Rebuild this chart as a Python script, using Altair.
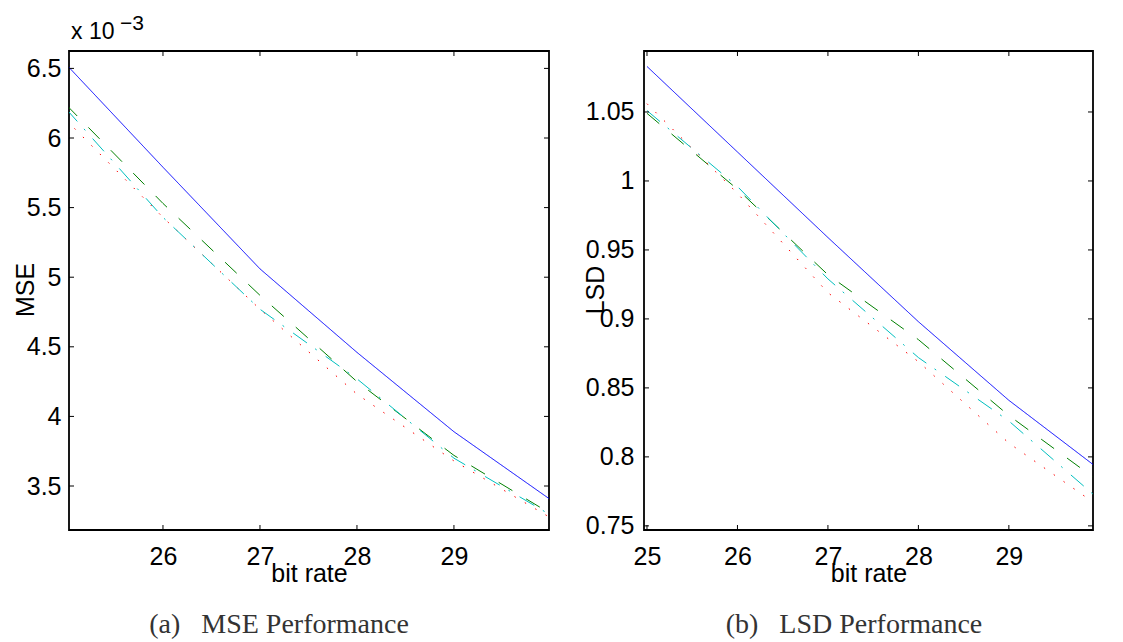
import altair as alt
import pandas as pd

# ---- data -------------------------------------------------------------
bit_rate = [25, 26, 27, 28, 29, 30]
series = ["A", "B", "C", "D"]
colors = ["#0000ff", "#008000", "#ff0000", "#00bfbf"]
dashes = [[1, 0], [16, 16], [1.5, 10.5], [17, 10, 2, 11]]

# MSE, in units of 10^-3
mse_a = [6.53, 5.79, 5.06, 4.46, 3.89, 3.40]
mse_b = [6.24, 5.53, 4.87, 4.25, 3.72, 3.30]
mse_c = [6.13, 5.43, 4.77, 4.16, 3.68, 3.27]
mse_d = [6.21, 5.43, 4.77, 4.27, 3.70, 3.29]

lsd_a = [1.083, 1.021, 0.959, 0.898, 0.841, 0.791]
lsd_b = [1.049, 0.994, 0.932, 0.885, 0.830, 0.782]
lsd_c = [1.056, 0.991, 0.919, 0.869, 0.810, 0.764]
lsd_d = [1.051, 0.996, 0.929, 0.872, 0.826, 0.769]

x_ticks_all = [25, 26, 27, 28, 29, 30]
mse_x_labels = [26, 27, 28, 29]
lsd_x_labels = [25, 26, 27, 28, 29]
mse_y_ticks = [3.5, 4.0, 4.5, 5.0, 5.5, 6.0, 6.5]
lsd_y_ticks = [0.75, 0.8, 0.85, 0.9, 0.95, 1.0, 1.05]

SANS = "Liberation Sans"
SERIF = "Liberation Serif"
H = 479
TICK = 5
NB = "\u00a0"


def long_table(cols):
    rows = []
    for name, vals in zip(series, cols):
        for x, v in zip(bit_rate, vals):
            rows.append({"rate": x, "value": v, "series": name})
    return pd.DataFrame(rows)


def panel(df, width, x_dom, y_dom, x_labels, y_ticks, y_title, title_x, label_pad, caption):
    xs = alt.Scale(domain=x_dom, nice=False, zero=False)
    ys = alt.Scale(domain=y_dom, nice=False, zero=False)
    # the x-axis group sits at the bottom edge, so titleY is measured from there
    x_axis = alt.Axis(values=x_labels, title="bit rate", titleX=width / 2,
                      titleY=51, titleBaseline="alphabetic",
                      labelBaseline="alphabetic", labelPadding=34)
    y_axis = alt.Axis(values=y_ticks, format="~g", title=y_title,
                      titleX=title_x, titleY=H / 2 - 1, titleAngle=-90,
                      titleAlign="center", titleBaseline="alphabetic",
                      labelPadding=label_pad)

    lines = alt.Chart(df).mark_line(strokeWidth=1, clip=True).encode(
        x=alt.X("rate:Q", scale=xs, axis=x_axis),
        y=alt.Y("value:Q", scale=ys, axis=y_axis),
        color=alt.Color("series:N", scale=alt.Scale(domain=series, range=colors), legend=None),
        strokeDash=alt.StrokeDash("series:N", scale=alt.Scale(domain=series, range=dashes),
                                  legend=None),
        order="rate:Q",
    )

    # inward tick marks on all four sides of the box
    xt = pd.DataFrame({"rate": x_ticks_all})
    yt = pd.DataFrame({"value": y_ticks})
    rule = dict(color="black", strokeWidth=1, clip=True)
    xb = alt.Chart(xt).mark_rule(**rule).encode(
        x=alt.X("rate:Q", scale=xs, axis=x_axis), y=alt.value(H), y2=alt.value(H - TICK))
    xtp = alt.Chart(xt).mark_rule(**rule).encode(
        x=alt.X("rate:Q", scale=xs, axis=x_axis), y=alt.value(0), y2=alt.value(TICK))
    yl = alt.Chart(yt).mark_rule(**rule).encode(
        y=alt.Y("value:Q", scale=ys, axis=y_axis), x=alt.value(0), x2=alt.value(TICK))
    yr = alt.Chart(yt).mark_rule(**rule).encode(
        y=alt.Y("value:Q", scale=ys, axis=y_axis), x=alt.value(width - TICK), x2=alt.value(width))

    cap = alt.Chart(pd.DataFrame({"c": [caption]})).mark_text(
        font=SERIF, fontSize=28, color="#333333", align="center", baseline="alphabetic"
    ).encode(text="c:N", x=alt.value(210), y=alt.value(582))

    return alt.layer(lines, xb, xtp, yl, yr, cap).properties(width=width, height=H)


mse_df = long_table([mse_a, mse_b, mse_c, mse_d])
lsd_df = long_table([lsd_a, lsd_b, lsd_c, lsd_d])

left = panel(mse_df, 480, [25.031, 29.98], [3.184, 6.625], mse_x_labels, mse_y_ticks,
             "MSE", -36, 8, "(a)" + NB * 3 + "MSE Performance")

# scale factor shown above the MSE axis
exp_base = alt.Chart(pd.DataFrame({"t": ["x 10"]})).mark_text(
    font=SANS, fontSize=23, align="left", baseline="alphabetic", color="black"
).encode(text="t:N", x=alt.value(2), y=alt.value(-12))
exp_pow = alt.Chart(pd.DataFrame({"t": ["\u22123"]})).mark_text(
    font=SANS, fontSize=21, align="left", baseline="alphabetic", color="black"
).encode(text="t:N", x=alt.value(51), y=alt.value(-21))
left = alt.layer(left, exp_base, exp_pow)

right = panel(lsd_df, 449, [24.967, 29.93], [0.747, 1.0942], lsd_x_labels, lsd_y_ticks,
              "LSD", -41, 10, "(b)" + NB * 3 + "LSD Performance")

chart = alt.hconcat(left, right, spacing=95, bounds="flush").properties(
    padding={"left": 12, "top": 12, "right": 5, "bottom": 2}
).configure_view(
    stroke="black", strokeWidth=1.8
).configure_axis(
    domain=False, ticks=False, tickSize=0, grid=False,
    labelFont=SANS, labelFontSize=25, labelColor="black",
    titleFont=SANS, titleFontSize=25, titleColor="black", titleFontWeight="normal",
)

chart.save("out.html", embed_options={"renderer": "svg", "actions": False})
